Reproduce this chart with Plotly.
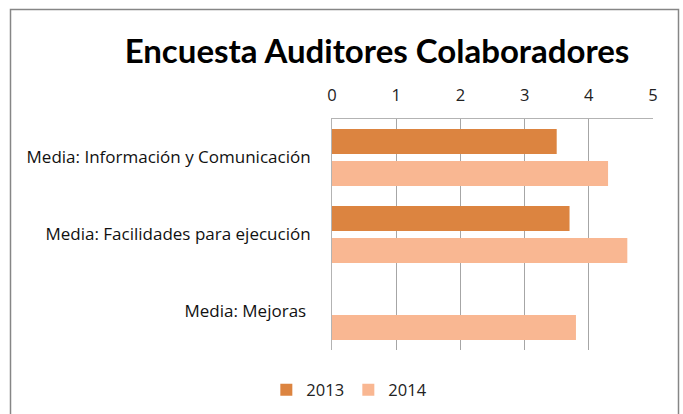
import plotly.graph_objects as go

categories = ["Media: Información y Comunicación", "Media: Facilidades para ejecución", "Media: Mejoras "]
values_2013 = [3.5, 3.7, None]
values_2014 = [4.3, 4.6, 3.8]
series_names = ["2013", "2014"]
x_ticks = [0, 1, 2, 3, 4, 5]

W, H = 683, 414
L, R, T, B = 332, 30, 119, 64

fig = go.Figure()
fig.add_trace(go.Bar(y=categories, x=values_2013, name=series_names[0], orientation="h",
                     marker=dict(color="#DC8440", line=dict(width=0))))
fig.add_trace(go.Bar(y=categories, x=values_2014, name=series_names[1], orientation="h",
                     marker=dict(color="#F9B792", line=dict(width=0))))

pw = W - L - R
ph = H - T - B
def px2x(px):
    return (px - L) / pw
def py2y(py):
    return (H - B - py) / ph

fig.update_layout(
    width=W, height=H,
    margin=dict(l=L, r=R, t=T, b=B),
    paper_bgcolor="white", plot_bgcolor="white",
    barmode="group", bargap=0.17, bargroupgap=0.22,
    title=dict(text="<b>Encuesta Auditores Colaboradores</b>", x=px2x(377), xref="paper",
               xanchor="center", y=1 - 51 / H, yanchor="middle",
               font=dict(family="Lato", size=33, color="black")),
    xaxis=dict(side="top", range=[0, 5], tickvals=x_ticks, showgrid=True, gridcolor="#A6A6A6",
               gridwidth=1, showline=True, linecolor="#B3B3B3", linewidth=1, zeroline=False,
               ticks="", ticklabelstandoff=10,
               tickfont=dict(family="Open Sans", size=16.5, color="#222222")),
    yaxis=dict(autorange="reversed", showline=True, linecolor="#B3B3B3", linewidth=1,
               showgrid=False, ticks="", ticklabelstandoff=17,
               tickfont=dict(family="Open Sans", size=17, color="#111111")),
    legend=dict(orientation="h", x=0.51, xref="container", xanchor="center",
                y=1 - 390 / H, yref="container", yanchor="middle",
                font=dict(family="Open Sans", size=16.5, color="#222222"), itemwidth=30,
                entrywidth=37, entrywidthmode="pixels"),
    showlegend=True,
)
fig.add_shape(type="rect", xref="paper", yref="paper",
              x0=px2x(10.5), x1=px2x(678.5), y0=py2y(9.5), y1=py2y(430),
              line=dict(color="#868686", width=1.5), fillcolor="rgba(0,0,0,0)", layer="below")

fig.write_html("out.html")
